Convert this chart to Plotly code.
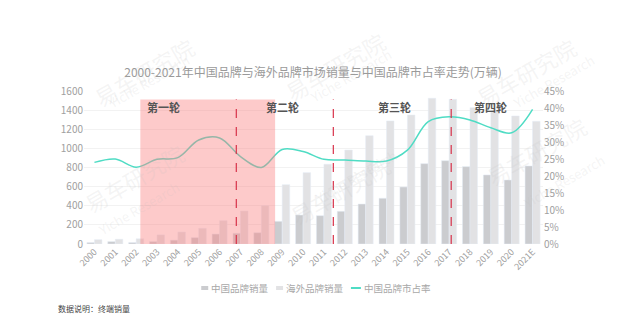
import plotly.graph_objects as go

years = ["2000","2001","2002","2003","2004","2005","2006","2007","2008","2009","2010",
         "2011","2012","2013","2014","2015","2016","2017","2018","2019","2020","2021E"]
china_sales = [15, 25, 15, 25, 40, 66, 104, 112, 118, 237, 303, 296, 342, 418, 478, 596,
               840, 871, 809, 722, 669, 816]
foreign_sales = [45, 50, 55, 95, 125, 164, 244, 345, 401, 620, 746, 834, 983, 1133, 1287,
                 1349, 1524, 1513, 1426, 1402, 1339, 1283]
china_share = [24.0, 25.0, 22.6, 24.9, 25.4, 30.6, 31.2, 25.7, 22.5, 27.8, 27.2, 24.9, 24.7,
               24.4, 24.4, 27.6, 36.0, 37.4, 36.5, 34.2, 32.7, 39.6]
rounds = ["第一轮", "第二轮", "第三轮", "第四轮"]
series_names = ["中国品牌销量", "海外品牌销量", "中国品牌市占率"]
colors = ["#CBCCCF", "#E2E2E4", "#4FDCC4"]

# plot area in pixels
L, R, T, B = 83.5, 543.5, 91, 244
PW, PH = R - L, B - T


def px(x):
    return (x - L) / PW


def py(y):
    return (B - y) / PH


fig = go.Figure()
fig.add_trace(go.Bar(x=years, y=china_sales, name=series_names[0], marker_color=colors[0],
                     showlegend=False))
fig.add_trace(go.Bar(x=years, y=foreign_sales, name=series_names[1], marker_color=colors[1],
                     showlegend=False))
fig.add_trace(go.Scatter(x=years, y=china_share, name=series_names[2], yaxis="y2",
                         mode="lines", showlegend=False,
                         line=dict(color=colors[2], width=1.5, shape="spline", smoothing=1.0)))

# pink period and dashed dividers
fig.add_shape(type="rect", xref="x", yref="y", x0=2.2, x1=8.66, y0=0, y1=1510,
              fillcolor="rgba(250,128,128,0.42)", line_width=0, layer="above")
for xv in [6.8, 11.45, 17.1]:
    fig.add_shape(type="line", xref="x", yref="y", x0=xv, x1=xv, y0=0, y1=1510,
                  line=dict(color="#D8324A", width=1.2, dash="dash"), layer="above")

for label, xv in zip(rounds, [3.3, 9.0, 14.4, 19.0]):
    fig.add_annotation(x=xv, y=1435, xref="x", yref="y", text="<b>%s</b>" % label,
                       showarrow=False, font=dict(size=11, color="#555555"))

# watermarks
for (wx, wy) in [(85, 28), (335, 22), (585, 28), (75, 222), (340, 190), (595, 195)]:
    fig.add_annotation(x=px(wx), y=py(wy), xref="paper", yref="paper",
                       text="易车研究院", showarrow=False, textangle=-30,
                       font=dict(size=22, color="rgba(190,190,190,0.16)"))
    fig.add_annotation(x=px(wx + 16), y=py(wy + 20), xref="paper", yref="paper",
                       text="Yiche Research", showarrow=False, textangle=-30,
                       font=dict(size=13, color="rgba(190,190,190,0.16)"))

# legend (manual, compact)
leg_y = 288
fig.add_shape(type="rect", xref="paper", yref="paper", x0=px(201), x1=px(208),
              y0=py(leg_y + 2), y1=py(leg_y - 2), fillcolor=colors[0], line_width=0)
fig.add_shape(type="rect", xref="paper", yref="paper", x0=px(276), x1=px(283),
              y0=py(leg_y + 2), y1=py(leg_y - 2), fillcolor=colors[1], line_width=0)
fig.add_shape(type="line", xref="paper", yref="paper", x0=px(351), x1=px(361),
              y0=py(leg_y), y1=py(leg_y), line=dict(color=colors[2], width=2))
for name, tx in zip(series_names, [209, 284, 362]):
    fig.add_annotation(x=px(tx), y=py(leg_y), xref="paper", yref="paper", xanchor="left",
                       yanchor="middle", text=name, showarrow=False,
                       font=dict(size=9.5, color="#A8A8A8"))

fig.add_annotation(x=px(55), y=py(308), xref="paper", yref="paper",
                   xanchor="left", yanchor="middle", text="数据说明：终端销量",
                   showarrow=False, font=dict(size=8, color="#444444"))

fig.update_layout(
    width=640, height=317,
    margin=dict(l=L, r=640 - R, t=T, b=317 - B, autoexpand=False),
    paper_bgcolor="white", plot_bgcolor="white",
    font=dict(family="Noto Sans CJK SC, sans-serif", color="#999999"),
    title=dict(text="2000-2021年中国品牌与海外品牌市场销量与中国品牌市占率走势(万辆)",
               x=313 / 640, xanchor="center", y=1 - 73 / 317, yanchor="middle",
               font=dict(size=12, color="#9A9A9A")),
    barmode="group", bargap=0.28, bargroupgap=0.0,
    xaxis=dict(type="category", tickangle=-45, tickfont=dict(size=9, color="#A0A0A0"),
               showgrid=False, showline=False, ticks=""),
    yaxis=dict(range=[0, 1600], dtick=200, showgrid=True, gridcolor="#F2F2F2",
               zeroline=False, tickfont=dict(size=10, color="#A0A0A0"), ticks=""),
    yaxis2=dict(range=[0, 45], dtick=5, overlaying="y", side="right", ticksuffix="%",
                showgrid=False, zeroline=False, tickfont=dict(size=10, color="#A0A0A0"),
                ticks=""),
    showlegend=False,
)

fig.write_html("out.html")
